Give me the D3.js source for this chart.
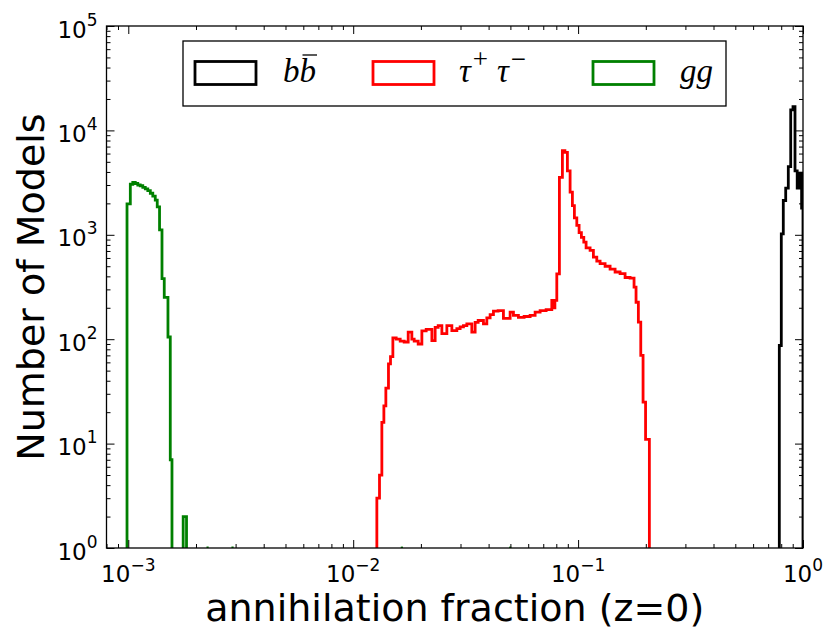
<!DOCTYPE html>
<html>
<head>
<meta charset="utf-8">
<script src="https://cdn.jsdelivr.net/npm/d3@7"></script>
<style>
  body { margin: 0; background: #fff; }
  svg { display: block; }
</style>
</head>
<body>
<div id="chart"></div>
<script>
// bin edges (annihilation fraction) and counts per channel
var bbEdges = [0.7847, 0.8008, 0.8173, 0.8377, 0.8603, 0.8818, 0.9027, 0.9214, 0.9424, 0.9638, 0.9858, 1.0];
var bbCounts = [87, 1020, 2130, 2800, 4500, 15700, 16900, 4100, 2800, 3900, 1800];

var tauEdges = [0.01274, 0.01309, 0.01341, 0.01369, 0.01397, 0.01435, 0.01465, 0.01501,
    0.01553, 0.01618, 0.01685, 0.01756, 0.01823, 0.01867, 0.01945, 0.02020, 0.02111, 0.02238,
    0.02314, 0.02387, 0.02479, 0.02609, 0.02746, 0.02890, 0.02989, 0.03092, 0.03201, 0.03369,
    0.03485, 0.03594, 0.03794, 0.03928, 0.04063, 0.04203, 0.04409, 0.04656, 0.04986, 0.05158,
    0.05428, 0.05754, 0.06119, 0.06440, 0.06778, 0.07208, 0.07640, 0.07766, 0.07886, 0.08041,
    0.08259, 0.08516, 0.08736, 0.08963, 0.09214, 0.09433, 0.09628, 0.09868, 0.10103, 0.10344,
    0.10600, 0.10853, 0.11306, 0.11695, 0.12109, 0.12525, 0.13183, 0.13875, 0.14604, 0.15370,
    0.16177, 0.17026, 0.17733, 0.18099, 0.18535, 0.18995, 0.19447, 0.19953, 0.20746];
var tauCounts = [3, 5, 16, 23, 34, 58, 68,
    103, 100, 96, 94, 117, 100, 96, 90, 120, 124,
    97, 130, 135, 113, 135, 121, 126, 131, 135, 140,
    117, 145, 151, 140, 160, 172, 186, 188, 158, 182,
    169, 162, 165, 169, 182, 188, 192, 235, 200, 235,
    423, 3550, 6400, 6150, 4100, 2560, 1900, 1450, 1230, 1050,
    945, 850, 750, 710, 610, 560, 530, 500, 470, 440,
    425, 390, 385, 315, 226, 146, 70, 25, 11];

var ggEdges = [0.000987, 0.001021, 0.001047, 0.001074, 0.001102, 0.001130, 0.001160, 0.001190,
    0.001221, 0.001253, 0.001285, 0.001318, 0.001345, 0.001377, 0.001412, 0.001445, 0.001501,
    0.001537, 0.001564, 0.001754, 0.001815, 0.002227, 0.002277, 0.002875, 0.002940,
    0.01628, 0.01665, 0.04936, 0.05047];
var ggCounts = [1975, 3050, 3180, 3100, 3000, 2950, 2850, 2750, 2650, 2500, 2350, 2150, 1850,
    1115, 380, 252, 105, 7, 0, 2, 0, 1, 0, 1, 0, 1, 0, 1];

var xMajor = [0.001, 0.01, 0.1, 1];
var xMajorExp = ["\u22123", "\u22122", "\u22121", "0"];
var yMajor = [1, 10, 100, 1000, 10000, 100000];
var yMajorExp = ["0", "1", "2", "3", "4", "5"];

function init() {
    var W = 827, H = 631;
    var left = 106.5, right = 803, top = 26, bottom = 548;

    var x = d3.scaleLog().domain([0.0008, 1]).range([left, right]);
    var y = d3.scaleLog().domain([1, 1e5]).range([bottom, top]);

    var svg = d3.select("#chart").append("svg")
        .attr("width", W).attr("height", H)
        .style("font-family", "'DejaVu Sans', sans-serif");

    svg.append("rect").attr("width", W).attr("height", H).attr("fill", "#fff");

    svg.append("clipPath").attr("id", "plotclip")
        .append("rect")
        .attr("x", left).attr("y", top)
        .attr("width", right - left).attr("height", bottom - top);

    // histogram outlines: runs of non-zero bins, each dropping to the floor at its ends
    function stepRuns(edges, counts) {
        var runs = [], cur = null;
        counts.forEach(function(c, i) {
            if (c > 0) {
                if (!cur) { cur = [[edges[i], 1]]; }
                cur.push([edges[i], c]);
                cur.push([edges[i + 1], c]);
            } else if (cur) {
                cur.push([edges[i], 1]);
                runs.push(cur);
                cur = null;
            }
        });
        if (cur) { cur.push([edges[counts.length], 1]); runs.push(cur); }
        return runs;
    }

    var line = d3.line()
        .x(function(d) { return x(d[0]); })
        .y(function(d) { return y(d[1]); });

    var series = [
        { edges: bbEdges, counts: bbCounts, color: "#000000" },
        { edges: tauEdges, counts: tauCounts, color: "#ff0000" },
        { edges: ggEdges, counts: ggCounts, color: "#008000" }
    ];

    var plot = svg.append("g").attr("clip-path", "url(#plotclip)");
    series.forEach(function(s) {
        plot.selectAll(null)
            .data(stepRuns(s.edges, s.counts))
            .enter()
            .append("path")
            .attr("d", line)
            .attr("fill", "none")
            .attr("stroke", s.color)
            .attr("stroke-width", 2.8)
            .attr("stroke-linejoin", "miter");
    });

    // minor ticks from the scale's own tick generator
    var xMinor = x.ticks().filter(function(v) { return xMajor.indexOf(v) < 0; });
    var yMinor = y.ticks().filter(function(v) { return yMajor.indexOf(v) < 0; });

    function tickAxis(axis, values, size) {
        return axis.tickValues(values).tickSize(-size).tickFormat("");
    }
    function place(g, tx, ty) {
        g.attr("transform", "translate(" + tx + "," + ty + ")");
        g.select(".domain").remove();
        g.selectAll(".tick line").attr("stroke", "#000").attr("stroke-width", 1);
    }

    [[xMajor, 8], [xMinor, 4]].forEach(function(p) {
        svg.append("g").call(tickAxis(d3.axisBottom(x), p[0], p[1])).call(place, 0, bottom);
        svg.append("g").call(tickAxis(d3.axisTop(x), p[0], p[1])).call(place, 0, top);
    });
    [[yMajor, 8], [yMinor, 4]].forEach(function(p) {
        svg.append("g").call(tickAxis(d3.axisLeft(y), p[0], p[1])).call(place, left, 0);
        svg.append("g").call(tickAxis(d3.axisRight(y), p[0], p[1])).call(place, right, 0);
    });

    // frame
    svg.append("rect")
        .attr("x", left).attr("y", top)
        .attr("width", right - left).attr("height", bottom - top)
        .attr("fill", "none").attr("stroke", "#000").attr("stroke-width", 1.3);

    // tick labels as 10^n
    var xl = svg.selectAll(".xlab").data(xMajor).enter().append("text")
        .attr("class", "xlab")
        .attr("x", function(d) { return x(d); })
        .attr("y", bottom + 34)
        .attr("text-anchor", "middle")
        .attr("font-size", 23)
        .attr("fill", "#000");
    xl.append("tspan").text("10");
    xl.append("tspan").attr("font-size", 17).attr("dy", -11)
        .text(function(d, i) { return xMajorExp[i]; });

    var yl = svg.selectAll(".ylab").data(yMajor).enter().append("text")
        .attr("class", "ylab")
        .attr("x", left - 9)
        .attr("y", function(d) { return y(d) + 11.5; })
        .attr("text-anchor", "end")
        .attr("font-size", 23)
        .attr("fill", "#000");
    yl.append("tspan").text("10");
    yl.append("tspan").attr("font-size", 17).attr("dy", -12)
        .text(function(d, i) { return yMajorExp[i]; });

    // axis titles
    svg.append("text")
        .attr("x", (left + right) / 2).attr("y", 621)
        .attr("text-anchor", "middle")
        .attr("font-size", 38)
        .text("annihilation fraction (z=0)");

    svg.append("text")
        .attr("transform", "translate(44," + ((top + bottom) / 2) + ") rotate(-90)")
        .attr("text-anchor", "middle")
        .attr("font-size", 38)
        .text("Number of Models");

    // legend
    var lg = svg.append("g");
    lg.append("rect")
        .attr("x", 183).attr("y", 41).attr("width", 543).attr("height", 65)
        .attr("fill", "#fff").attr("stroke", "#000").attr("stroke-width", 1.3);

    var patchX = [195, 373, 593];
    var labelX = [283, 459, 680];
    series.forEach(function(s, i) {
        lg.append("rect")
            .attr("x", patchX[i]).attr("y", 61.5).attr("width", 61).attr("height", 23)
            .attr("fill", "none").attr("stroke", s.color).attr("stroke-width", 2.8);
    });

    var serif = "'Liberation Serif', 'DejaVu Serif', serif";
    var t0 = lg.append("text").attr("x", labelX[0]).attr("y", 82)
        .attr("font-family", serif).attr("font-style", "italic").attr("font-size", 33)
        .text("bb");
    var full = t0.node().getComputedTextLength();
    lg.append("line")
        .attr("x1", labelX[0] + full / 2 + 3).attr("x2", labelX[0] + full + 1)
        .attr("y1", 55).attr("y2", 55)
        .attr("stroke", "#000").attr("stroke-width", 1.3);

    var t1 = lg.append("text").attr("x", labelX[1]).attr("y", 82)
        .attr("font-family", serif).attr("font-style", "italic").attr("font-size", 33);
    t1.append("tspan").text("\u03c4");
    t1.append("tspan").attr("font-size", 27).attr("dx", 2).attr("dy", -14).attr("font-style", "normal").text("+");
    t1.append("tspan").attr("dy", 14).attr("dx", 9).text("\u03c4");
    t1.append("tspan").attr("font-size", 27).attr("dx", 2).attr("dy", -14).attr("font-style", "normal").text("\u2212");

    lg.append("text").attr("x", labelX[2]).attr("y", 82)
        .attr("font-family", serif).attr("font-style", "italic").attr("font-size", 33)
        .text("gg");
}

window.onload = init;
</script>
</body>
</html>
